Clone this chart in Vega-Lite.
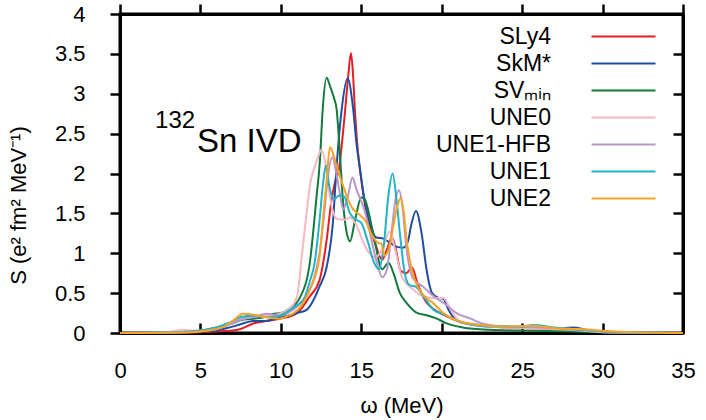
{
  "$schema": "https://vega.github.io/schema/vega-lite/v6.json",
  "width": 563,
  "height": 319,
  "autosize": {"type": "none"},
  "padding": {"left": 120, "top": 14, "right": 23, "bottom": 87},
  "background": "white",
  "config": {
    "font": "Liberation Sans",
    "view": {"stroke": "black", "strokeWidth": 3},
    "axis": {"grid": false, "labelFlush": false, "labelColor": "black", "titleColor": "black", "labelFontSize": 22, "titleFontSize": 22, "titleFontWeight": "normal"},
    "legend": {"symbolType": "M-4,0H4", "symbolSize": 256, "symbolStrokeWidth": 2, "labelFontSize": 23, "labelColor": "black", "labelAlign": "right", "labelOffset": -84, "rowPadding": 3}
  },
  "data": {"values": [
    {"m":"SLy4","w":0,"s":0},{"m":"SLy4","w":4,"s":0.005},{"m":"SLy4","w":6,"s":0.02},{"m":"SLy4","w":7,"s":0.03},{"m":"SLy4","w":7.5,"s":0.05},{"m":"SLy4","w":8.3,"s":0.12},{"m":"SLy4","w":9.1,"s":0.15},{"m":"SLy4","w":10,"s":0.18},{"m":"SLy4","w":11,"s":0.25},{"m":"SLy4","w":11.8,"s":0.46},{"m":"SLy4","w":12.4,"s":0.66},{"m":"SLy4","w":12.85,"s":1.17},{"m":"SLy4","w":13.15,"s":1.67},{"m":"SLy4","w":13.4,"s":1.92},{"m":"SLy4","w":13.6,"s":2.04},{"m":"SLy4","w":13.8,"s":2.38},{"m":"SLy4","w":14.0,"s":2.8},{"m":"SLy4","w":14.2,"s":3.25},{"m":"SLy4","w":14.36,"s":3.51},{"m":"SLy4","w":14.5,"s":3.2},{"m":"SLy4","w":14.6,"s":2.8},{"m":"SLy4","w":14.8,"s":2.26},{"m":"SLy4","w":14.95,"s":2.0},{"m":"SLy4","w":15.4,"s":1.42},{"m":"SLy4","w":15.85,"s":1.13},{"m":"SLy4","w":16.3,"s":0.92},{"m":"SLy4","w":16.6,"s":1.05},{"m":"SLy4","w":16.9,"s":1.2},{"m":"SLy4","w":17.15,"s":1.05},{"m":"SLy4","w":17.45,"s":0.78},{"m":"SLy4","w":17.8,"s":0.75},{"m":"SLy4","w":18.15,"s":0.82},{"m":"SLy4","w":18.5,"s":0.62},{"m":"SLy4","w":19.0,"s":0.4},{"m":"SLy4","w":19.5,"s":0.3},{"m":"SLy4","w":20.1,"s":0.23},{"m":"SLy4","w":21,"s":0.15},{"m":"SLy4","w":22,"s":0.1},{"m":"SLy4","w":24,"s":0.07},{"m":"SLy4","w":26,"s":0.06},{"m":"SLy4","w":28,"s":0.04},{"m":"SLy4","w":30,"s":0.01},{"m":"SLy4","w":35,"s":0},

    {"m":"SkM*","w":0,"s":0},{"m":"SkM*","w":3,"s":0.005},{"m":"SkM*","w":5,"s":0.02},{"m":"SkM*","w":6,"s":0.03},{"m":"SkM*","w":6.4,"s":0.05},{"m":"SkM*","w":7,"s":0.08},{"m":"SkM*","w":7.5,"s":0.11},{"m":"SkM*","w":8.3,"s":0.15},{"m":"SkM*","w":9,"s":0.15},{"m":"SkM*","w":9.5,"s":0.17},{"m":"SkM*","w":10,"s":0.2},{"m":"SkM*","w":10.5,"s":0.22},{"m":"SkM*","w":11,"s":0.25},{"m":"SkM*","w":11.6,"s":0.29},{"m":"SkM*","w":12,"s":0.4},{"m":"SkM*","w":12.4,"s":0.58},{"m":"SkM*","w":12.85,"s":0.83},{"m":"SkM*","w":13.25,"s":1.42},{"m":"SkM*","w":13.45,"s":2.04},{"m":"SkM*","w":13.78,"s":2.8},{"m":"SkM*","w":14.15,"s":3.19},{"m":"SkM*","w":14.5,"s":2.8},{"m":"SkM*","w":14.7,"s":2.38},{"m":"SkM*","w":14.9,"s":2.08},{"m":"SkM*","w":15.2,"s":1.67},{"m":"SkM*","w":15.6,"s":1.33},{"m":"SkM*","w":15.9,"s":1.2},{"m":"SkM*","w":16.4,"s":1.18},{"m":"SkM*","w":16.8,"s":1.13},{"m":"SkM*","w":17.2,"s":1.08},{"m":"SkM*","w":17.6,"s":1.07},{"m":"SkM*","w":17.9,"s":1.15},{"m":"SkM*","w":18.1,"s":1.35},{"m":"SkM*","w":18.4,"s":1.53},{"m":"SkM*","w":18.75,"s":1.25},{"m":"SkM*","w":19.06,"s":0.79},{"m":"SkM*","w":19.4,"s":0.5},{"m":"SkM*","w":19.8,"s":0.44},{"m":"SkM*","w":20.1,"s":0.43},{"m":"SkM*","w":20.4,"s":0.3},{"m":"SkM*","w":20.8,"s":0.18},{"m":"SkM*","w":21.5,"s":0.12},{"m":"SkM*","w":22.5,"s":0.1},{"m":"SkM*","w":24,"s":0.08},{"m":"SkM*","w":26,"s":0.07},{"m":"SkM*","w":27.5,"s":0.06},{"m":"SkM*","w":28.2,"s":0.07},{"m":"SkM*","w":29,"s":0.04},{"m":"SkM*","w":30,"s":0.02},{"m":"SkM*","w":32,"s":0.005},{"m":"SkM*","w":35,"s":0},

    {"m":"SVmin","w":0,"s":0},{"m":"SVmin","w":4,"s":0.01},{"m":"SVmin","w":5,"s":0.03},{"m":"SVmin","w":6,"s":0.07},{"m":"SVmin","w":7,"s":0.12},{"m":"SVmin","w":7.5,"s":0.16},{"m":"SVmin","w":8.3,"s":0.18},{"m":"SVmin","w":9,"s":0.2},{"m":"SVmin","w":9.5,"s":0.24},{"m":"SVmin","w":10,"s":0.25},{"m":"SVmin","w":10.5,"s":0.3},{"m":"SVmin","w":11.2,"s":0.45},{"m":"SVmin","w":11.8,"s":0.88},{"m":"SVmin","w":12.2,"s":1.67},{"m":"SVmin","w":12.43,"s":2.17},{"m":"SVmin","w":12.6,"s":2.8},{"m":"SVmin","w":12.85,"s":3.2},{"m":"SVmin","w":13.05,"s":3.1},{"m":"SVmin","w":13.3,"s":2.95},{"m":"SVmin","w":13.47,"s":2.8},{"m":"SVmin","w":13.67,"s":2.25},{"m":"SVmin","w":13.87,"s":1.63},{"m":"SVmin","w":14.1,"s":1.25},{"m":"SVmin","w":14.3,"s":1.15},{"m":"SVmin","w":14.6,"s":1.4},{"m":"SVmin","w":15.0,"s":1.7},{"m":"SVmin","w":15.2,"s":1.68},{"m":"SVmin","w":15.7,"s":1.29},{"m":"SVmin","w":16.3,"s":0.8},{"m":"SVmin","w":16.7,"s":0.88},{"m":"SVmin","w":17.0,"s":0.75},{"m":"SVmin","w":17.4,"s":0.5},{"m":"SVmin","w":17.8,"s":0.38},{"m":"SVmin","w":18.4,"s":0.26},{"m":"SVmin","w":19.1,"s":0.22},{"m":"SVmin","w":19.7,"s":0.18},{"m":"SVmin","w":20.3,"s":0.12},{"m":"SVmin","w":21.3,"s":0.07},{"m":"SVmin","w":23,"s":0.04},{"m":"SVmin","w":25,"s":0.03},{"m":"SVmin","w":28,"s":0.02},{"m":"SVmin","w":30,"s":0.01},{"m":"SVmin","w":35,"s":0},

    {"m":"UNE0","w":0,"s":0},{"m":"UNE0","w":3,"s":0.01},{"m":"UNE0","w":3.9,"s":0.04},{"m":"UNE0","w":4.5,"s":0.03},{"m":"UNE0","w":5,"s":0.03},{"m":"UNE0","w":6,"s":0.06},{"m":"UNE0","w":7,"s":0.13},{"m":"UNE0","w":7.5,"s":0.17},{"m":"UNE0","w":8.3,"s":0.2},{"m":"UNE0","w":9,"s":0.22},{"m":"UNE0","w":9.5,"s":0.22},{"m":"UNE0","w":10,"s":0.25},{"m":"UNE0","w":10.5,"s":0.3},{"m":"UNE0","w":11,"s":0.45},{"m":"UNE0","w":11.3,"s":0.96},{"m":"UNE0","w":11.6,"s":1.5},{"m":"UNE0","w":11.85,"s":1.9},{"m":"UNE0","w":12.1,"s":2.08},{"m":"UNE0","w":12.3,"s":2.2},{"m":"UNE0","w":12.5,"s":2.29},{"m":"UNE0","w":12.75,"s":2.15},{"m":"UNE0","w":12.95,"s":1.85},{"m":"UNE0","w":13.2,"s":1.55},{"m":"UNE0","w":13.5,"s":1.43},{"m":"UNE0","w":14.0,"s":1.42},{"m":"UNE0","w":14.3,"s":1.45},{"m":"UNE0","w":14.7,"s":1.35},{"m":"UNE0","w":15.1,"s":1.15},{"m":"UNE0","w":15.5,"s":1.0},{"m":"UNE0","w":15.9,"s":0.95},{"m":"UNE0","w":16.3,"s":1.05},{"m":"UNE0","w":16.75,"s":1.27},{"m":"UNE0","w":17.1,"s":1.05},{"m":"UNE0","w":17.5,"s":0.72},{"m":"UNE0","w":18.2,"s":0.55},{"m":"UNE0","w":18.85,"s":0.46},{"m":"UNE0","w":19.5,"s":0.44},{"m":"UNE0","w":20.1,"s":0.44},{"m":"UNE0","w":20.6,"s":0.28},{"m":"UNE0","w":21.1,"s":0.15},{"m":"UNE0","w":22,"s":0.1},{"m":"UNE0","w":24,"s":0.07},{"m":"UNE0","w":26,"s":0.06},{"m":"UNE0","w":28,"s":0.04},{"m":"UNE0","w":30,"s":0.01},{"m":"UNE0","w":35,"s":0},

    {"m":"UNE1-HFB","w":0,"s":0},{"m":"UNE1-HFB","w":4,"s":0.01},{"m":"UNE1-HFB","w":5,"s":0.02},{"m":"UNE1-HFB","w":6,"s":0.05},{"m":"UNE1-HFB","w":7,"s":0.12},{"m":"UNE1-HFB","w":7.5,"s":0.17},{"m":"UNE1-HFB","w":8.3,"s":0.2},{"m":"UNE1-HFB","w":9.1,"s":0.24},{"m":"UNE1-HFB","w":10,"s":0.22},{"m":"UNE1-HFB","w":10.5,"s":0.26},{"m":"UNE1-HFB","w":11,"s":0.33},{"m":"UNE1-HFB","w":11.5,"s":0.45},{"m":"UNE1-HFB","w":12,"s":0.65},{"m":"UNE1-HFB","w":12.4,"s":1.0},{"m":"UNE1-HFB","w":12.7,"s":1.5},{"m":"UNE1-HFB","w":12.95,"s":2.0},{"m":"UNE1-HFB","w":13.2,"s":2.2},{"m":"UNE1-HFB","w":13.45,"s":2.0},{"m":"UNE1-HFB","w":13.67,"s":1.75},{"m":"UNE1-HFB","w":13.87,"s":1.55},{"m":"UNE1-HFB","w":14.15,"s":1.7},{"m":"UNE1-HFB","w":14.45,"s":1.95},{"m":"UNE1-HFB","w":14.7,"s":1.8},{"m":"UNE1-HFB","w":15.2,"s":1.54},{"m":"UNE1-HFB","w":15.6,"s":1.2},{"m":"UNE1-HFB","w":16.05,"s":0.82},{"m":"UNE1-HFB","w":16.3,"s":0.7},{"m":"UNE1-HFB","w":16.6,"s":0.8},{"m":"UNE1-HFB","w":16.9,"s":1.3},{"m":"UNE1-HFB","w":17.15,"s":1.7},{"m":"UNE1-HFB","w":17.35,"s":1.79},{"m":"UNE1-HFB","w":17.55,"s":1.6},{"m":"UNE1-HFB","w":17.8,"s":1.08},{"m":"UNE1-HFB","w":18.2,"s":0.69},{"m":"UNE1-HFB","w":18.85,"s":0.58},{"m":"UNE1-HFB","w":19.5,"s":0.46},{"m":"UNE1-HFB","w":20.1,"s":0.38},{"m":"UNE1-HFB","w":21,"s":0.24},{"m":"UNE1-HFB","w":21.8,"s":0.18},{"m":"UNE1-HFB","w":22.5,"s":0.12},{"m":"UNE1-HFB","w":24,"s":0.08},{"m":"UNE1-HFB","w":26,"s":0.07},{"m":"UNE1-HFB","w":28,"s":0.05},{"m":"UNE1-HFB","w":30,"s":0.02},{"m":"UNE1-HFB","w":35,"s":0},

    {"m":"UNE1","w":0,"s":0},{"m":"UNE1","w":3,"s":0.005},{"m":"UNE1","w":5,"s":0.03},{"m":"UNE1","w":6,"s":0.07},{"m":"UNE1","w":6.4,"s":0.1},{"m":"UNE1","w":7,"s":0.15},{"m":"UNE1","w":7.5,"s":0.2},{"m":"UNE1","w":8.3,"s":0.22},{"m":"UNE1","w":9,"s":0.2},{"m":"UNE1","w":9.5,"s":0.2},{"m":"UNE1","w":10,"s":0.22},{"m":"UNE1","w":10.5,"s":0.28},{"m":"UNE1","w":11,"s":0.35},{"m":"UNE1","w":11.4,"s":0.41},{"m":"UNE1","w":11.8,"s":0.65},{"m":"UNE1","w":12.1,"s":0.88},{"m":"UNE1","w":12.4,"s":1.4},{"m":"UNE1","w":12.6,"s":1.83},{"m":"UNE1","w":12.8,"s":2.1},{"m":"UNE1","w":13.0,"s":1.85},{"m":"UNE1","w":13.3,"s":1.68},{"m":"UNE1","w":13.6,"s":1.72},{"m":"UNE1","w":13.9,"s":1.72},{"m":"UNE1","w":14.3,"s":1.5},{"m":"UNE1","w":14.7,"s":1.42},{"m":"UNE1","w":15.0,"s":1.38},{"m":"UNE1","w":15.4,"s":1.15},{"m":"UNE1","w":15.8,"s":0.88},{"m":"UNE1","w":16.1,"s":0.8},{"m":"UNE1","w":16.4,"s":1.1},{"m":"UNE1","w":16.7,"s":1.75},{"m":"UNE1","w":16.95,"s":2.0},{"m":"UNE1","w":17.2,"s":1.65},{"m":"UNE1","w":17.4,"s":1.25},{"m":"UNE1","w":17.7,"s":0.75},{"m":"UNE1","w":18.0,"s":0.6},{"m":"UNE1","w":18.4,"s":0.58},{"m":"UNE1","w":18.9,"s":0.45},{"m":"UNE1","w":19.5,"s":0.29},{"m":"UNE1","w":20.3,"s":0.22},{"m":"UNE1","w":21,"s":0.15},{"m":"UNE1","w":22,"s":0.1},{"m":"UNE1","w":23,"s":0.08},{"m":"UNE1","w":25,"s":0.08},{"m":"UNE1","w":25.7,"s":0.1},{"m":"UNE1","w":27,"s":0.07},{"m":"UNE1","w":28,"s":0.05},{"m":"UNE1","w":30,"s":0.02},{"m":"UNE1","w":32,"s":0.005},{"m":"UNE1","w":35,"s":0},

    {"m":"UNE2","w":0,"s":0},{"m":"UNE2","w":4,"s":0.005},{"m":"UNE2","w":5,"s":0.02},{"m":"UNE2","w":6,"s":0.05},{"m":"UNE2","w":6.4,"s":0.075},{"m":"UNE2","w":7,"s":0.15},{"m":"UNE2","w":7.65,"s":0.24},{"m":"UNE2","w":8.3,"s":0.23},{"m":"UNE2","w":9,"s":0.2},{"m":"UNE2","w":9.9,"s":0.18},{"m":"UNE2","w":10.5,"s":0.22},{"m":"UNE2","w":10.8,"s":0.25},{"m":"UNE2","w":11.3,"s":0.35},{"m":"UNE2","w":11.8,"s":0.54},{"m":"UNE2","w":12.4,"s":0.95},{"m":"UNE2","w":12.65,"s":1.5},{"m":"UNE2","w":12.85,"s":1.92},{"m":"UNE2","w":13.05,"s":2.33},{"m":"UNE2","w":13.25,"s":2.25},{"m":"UNE2","w":13.47,"s":2.09},{"m":"UNE2","w":13.9,"s":1.83},{"m":"UNE2","w":14.2,"s":1.66},{"m":"UNE2","w":14.5,"s":1.55},{"m":"UNE2","w":14.8,"s":1.5},{"m":"UNE2","w":15.3,"s":1.39},{"m":"UNE2","w":15.6,"s":1.25},{"m":"UNE2","w":16.05,"s":1.13},{"m":"UNE2","w":16.25,"s":1.12},{"m":"UNE2","w":16.45,"s":0.97},{"m":"UNE2","w":16.7,"s":1.05},{"m":"UNE2","w":17.0,"s":1.35},{"m":"UNE2","w":17.25,"s":1.6},{"m":"UNE2","w":17.45,"s":1.69},{"m":"UNE2","w":17.65,"s":1.5},{"m":"UNE2","w":17.8,"s":1.2},{"m":"UNE2","w":18.2,"s":0.75},{"m":"UNE2","w":18.85,"s":0.48},{"m":"UNE2","w":19.5,"s":0.37},{"m":"UNE2","w":20.1,"s":0.25},{"m":"UNE2","w":20.9,"s":0.16},{"m":"UNE2","w":22.4,"s":0.1},{"m":"UNE2","w":24,"s":0.08},{"m":"UNE2","w":25.7,"s":0.09},{"m":"UNE2","w":27,"s":0.06},{"m":"UNE2","w":28.6,"s":0.05},{"m":"UNE2","w":30.7,"s":0.02},{"m":"UNE2","w":35,"s":0}
  ]},
  "layer": [
    {
      "mark": {"type": "line", "interpolate": "monotone", "strokeWidth": 2},
      "encoding": {
        "x": {"field": "w", "type": "quantitative", "scale": {"domain": [0, 35], "nice": false},
              "axis": {"orient": "bottom", "values": [0,5,10,15,20,25,30,35], "title": "ω (MeV)", "labelPadding": 37, "titlePadding": 14, "tickSize": -10, "domainColor": "black", "domainWidth": 3, "tickColor": "black", "tickWidth": 2.5}},
        "y": {"field": "s", "type": "quantitative", "scale": {"domain": [0, 4], "nice": false},
              "axis": {"orient": "left", "values": [0,0.5,1,1.5,2,2.5,3,3.5,4], "format": "~g", "title": "S (e² fm² MeV⁻¹)", "labelPadding": 25, "titleX": -90, "titleY": 191, "tickSize": 10, "domainColor": "black", "domainWidth": 3, "tickColor": "black", "tickWidth": 2.5}},
        "color": {"field": "m", "type": "nominal",
          "scale": {"domain": ["SLy4","SkM*","SVmin","UNE0","UNE1-HFB","UNE1","UNE2"],
                    "range": ["#e41e26","#1f4ea1","#137a3e","#f7b8c4","#b897c9","#1fb3c5","#f7a325"]},
          "legend": {"orient": "none", "legendX": 492, "legendY": 11, "title": null,
                     "labelExpr": "datum.label == 'SVmin' ? 'SVₘᵢₙ' : datum.label"}}
      }
    },
    {
      "data": {"values": [{"x": 4.79, "y": 2.27, "t": "Sn IVD"}]},
      "mark": {"type": "text", "fontSize": 33, "align": "left", "baseline": "alphabetic", "color": "black"},
      "encoding": {
        "x": {"field": "x", "type": "quantitative", "scale": {"domain": [0, 35], "nice": false},
              "axis": {"orient": "top", "values": [0,5,10,15,20,25,30,35], "labels": false, "title": null, "tickSize": 10, "domainColor": "black", "domainWidth": 3, "tickColor": "black", "tickWidth": 2.5}},
        "y": {"field": "y", "type": "quantitative", "scale": {"domain": [0, 4], "nice": false},
              "axis": {"orient": "right", "values": [0,0.5,1,1.5,2,2.5,3,3.5,4], "labels": false, "title": null, "tickSize": -10, "domainColor": "black", "domainWidth": 3, "tickColor": "black", "tickWidth": 2.5}},
        "text": {"field": "t"}
      }
    },
    {
      "data": {"values": [{"x": 2.18, "y": 2.57, "t": "132"}]},
      "mark": {"type": "text", "fontSize": 24, "align": "left", "baseline": "alphabetic", "color": "black"},
      "encoding": {
        "x": {"field": "x", "type": "quantitative", "axis": null},
        "y": {"field": "y", "type": "quantitative", "axis": null},
        "text": {"field": "t"}
      }
    }
  ],
  "resolve": {"axis": {"x": "independent", "y": "independent"}}
}
